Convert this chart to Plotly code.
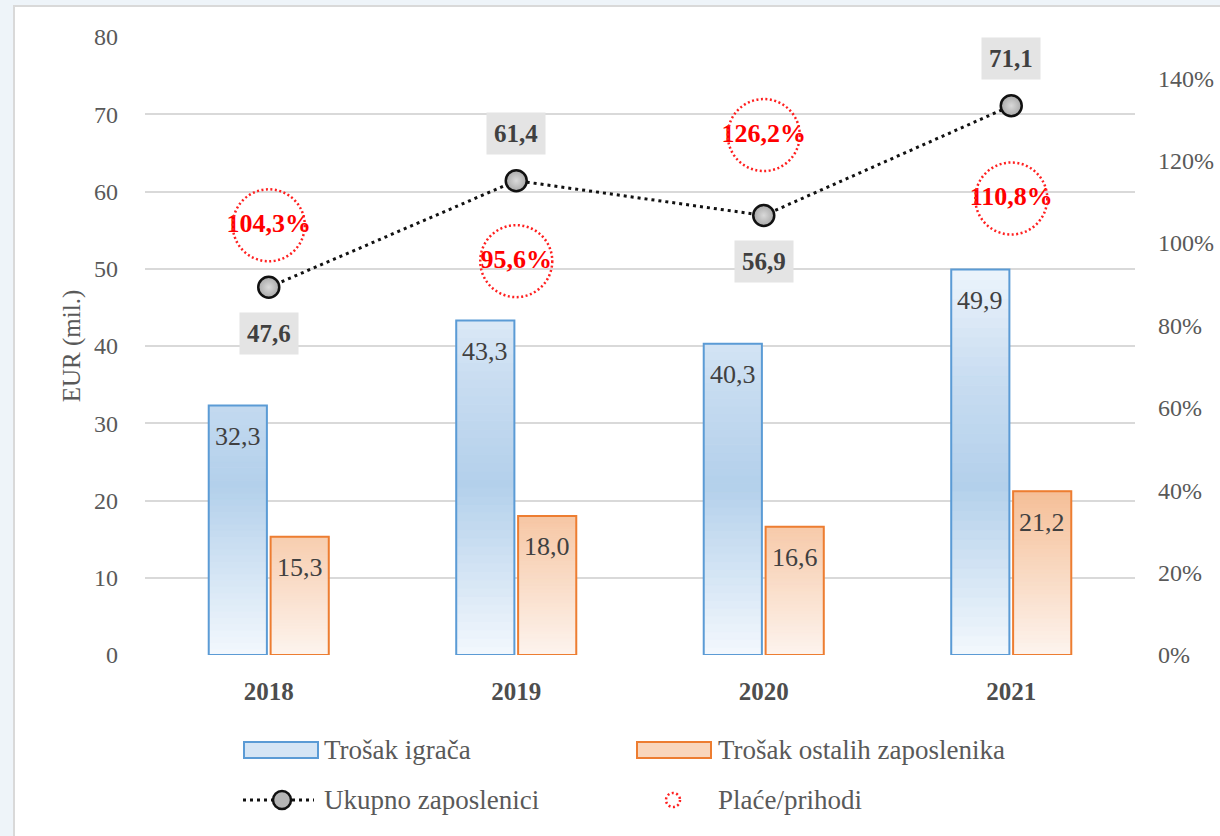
import plotly.graph_objects as go

# ---------------- data ----------------
years = ["2018", "2019", "2020", "2021"]
trosak_igraca = [32.3, 43.3, 40.3, 49.9]
trosak_ostalih = [15.3, 18.0, 16.6, 21.2]
ukupno_zaposlenici = [47.6, 61.4, 56.9, 71.1]
place_prihodi = [104.3, 95.6, 126.2, 110.8]
pct_ticks = [0, 20, 40, 60, 80, 100, 120, 140]

series_names = ["Trošak igrača", "Trošak ostalih zaposlenika",
                "Ukupno zaposlenici", "Plaće/prihodi"]

# style: where the total label sits relative to its marker
label_side = ["below", "above", "below", "above"]

# ---------------- geometry / style ----------------
FONT = "Liberation Serif"
W, H = 1220, 836
ML, MR, MT, MB = 145, 85, 37, 181
PW = W - ML - MR
PH = H - MT - MB
BAR_SHIFT = 31  # px offset of each bar from its category centre


def px(x):
    return (x - ML) / PW


def py(y):
    return (H - MB - y) / PH


def hex2rgb(h):
    h = h.lstrip("#")
    return tuple(int(h[i:i + 2], 16) for i in (0, 2, 4))


def grad(v, stops):
    if v <= stops[0][0]:
        return "rgb(%d,%d,%d)" % hex2rgb(stops[0][1])
    for (v0, c0), (v1, c1) in zip(stops[:-1], stops[1:]):
        if v0 <= v <= v1:
            t = (v - v0) / (v1 - v0)
            a, b = hex2rgb(c0), hex2rgb(c1)
            c = tuple(round(a[i] + (b[i] - a[i]) * t) for i in range(3))
            return "rgb(%d,%d,%d)" % c
    return "rgb(%d,%d,%d)" % hex2rgb(stops[-1][1])


blue_stops = [(0, "#f3f8fd"), (22, "#b3d0eb"), (36, "#c9ddf1"), (52, "#f1f7fd")]
orange_stops = [(0, "#fdf4ee"), (21, "#f5bf98"), (30, "#f5bf98")]

BLUE_LINE = "#5b9bd5"
ORANGE_LINE = "#ed7d31"
TXT = "#595959"
DARK = "#404040"

fig = go.Figure()

N = 40
for vals, stops, grp in [(trosak_igraca, blue_stops, "a"),
                         (trosak_ostalih, orange_stops, "b")]:
    for k in range(N):
        cols = [grad(v * (k + 0.5) / N, stops) for v in vals]
        fig.add_trace(go.Bar(
            x=years,
            y=[v / N for v in vals],
            base=[v * k / N for v in vals],
            offsetgroup=grp,
            marker=dict(color=cols, line=dict(width=1, color=cols)),
            hoverinfo="skip", showlegend=False,
        ))

for vals, col, grp, name in [(trosak_igraca, BLUE_LINE, "a", series_names[0]),
                             (trosak_ostalih, ORANGE_LINE, "b", series_names[1])]:
    fig.add_trace(go.Bar(
        x=years, y=vals, offsetgroup=grp, name=name,
        marker=dict(color="rgba(0,0,0,0)", line=dict(color=col, width=2)),
        showlegend=False,
    ))

fig.add_trace(go.Scatter(
    x=years, y=ukupno_zaposlenici, name=series_names[2],
    mode="lines+markers",
    line=dict(color="#111111", width=3, dash="3px,4px"),
    marker=dict(size=21, color="#a9a9a9",
                gradient=dict(type="radial", color="#d9d9d9"),
                line=dict(color="#111111", width=2.5)),
    showlegend=False, cliponaxis=False,
))

fig.add_trace(go.Scatter(
    x=years, y=place_prihodi, name=series_names[3], yaxis="y2",
    mode="text", texttemplate="%{y:.1f}%", textposition="middle center",
    textfont=dict(family=FONT, size=26, color="#ff0000", weight="bold"),
    showlegend=False, cliponaxis=False,
))

shapes = []
# white panel
shapes.append(dict(type="rect", xref="paper", yref="paper",
                   x0=px(14), x1=px(1250), y0=py(880), y1=py(6),
                   fillcolor="white", line=dict(color="#d9d9d9", width=2),
                   layer="below"))
# dotted circles around ratios (category index as anchor)
for i, r in enumerate(place_prihodi):
    shapes.append(dict(type="circle", xref="x", yref="y2",
                       xsizemode="pixel", ysizemode="pixel",
                       xanchor=i, yanchor=r,
                       x0=-36, x1=36, y0=-36, y1=36,
                       line=dict(color="#ff2020", width=2.5, dash="2px,2.5px")))

annotations = []
# totals labels
for i, (v, side) in enumerate(zip(ukupno_zaposlenici, label_side)):
    annotations.append(dict(
        x=i, y=v, xref="x", yref="y", showarrow=False,
        text="<b>" + f"{v:.1f}".replace(".", ",") + "</b>",
        font=dict(family=FONT, size=25, color=DARK),
        bgcolor="#e4e4e4", borderpad=7,
        yshift=-46 if side == "below" else 47,
    ))
# bar value labels (inside, near top)
for vals, sh in [(trosak_igraca, -BAR_SHIFT), (trosak_ostalih, BAR_SHIFT)]:
    for i, v in enumerate(vals):
        annotations.append(dict(
            x=i, y=v, xref="x", yref="y", showarrow=False,
            text=f"{v:.1f}".replace(".", ","),
            font=dict(family=FONT, size=26, color=DARK),
            xshift=sh, yshift=-31, yanchor="middle",
        ))

# ---------------- manual legend ----------------
shapes.append(dict(type="rect", xref="paper", yref="paper",
                   x0=px(244), x1=px(318), y0=py(758), y1=py(742),
                   fillcolor="#d5e5f5", line=dict(color=BLUE_LINE, width=2)))
shapes.append(dict(type="rect", xref="paper", yref="paper",
                   x0=px(637), x1=px(711), y0=py(758), y1=py(742),
                   fillcolor="#f9d6bc", line=dict(color=ORANGE_LINE, width=2)))
shapes.append(dict(type="line", xref="paper", yref="paper",
                   x0=px(243), x1=px(314), y0=py(800), y1=py(800),
                   line=dict(color="#111111", width=3, dash="3px,4px")))
shapes.append(dict(type="circle", xref="paper", yref="paper",
                   xsizemode="pixel", ysizemode="pixel",
                   xanchor=px(282), yanchor=py(800),
                   x0=-9, x1=9, y0=-9, y1=9,
                   fillcolor="#b5b5b5", line=dict(color="#111111", width=2.5)))
shapes.append(dict(type="circle", xref="paper", yref="paper",
                   xsizemode="pixel", ysizemode="pixel",
                   xanchor=px(673), yanchor=py(800),
                   x0=-7, x1=7, y0=-7, y1=7,
                   line=dict(color="#ff2020", width=2.5, dash="2px,2.5px")))
for name, lx, ly in [(series_names[0], 322, 750), (series_names[1], 716, 750),
                     (series_names[2], 322, 800), (series_names[3], 716, 800)]:
    annotations.append(dict(
        x=px(lx), y=py(ly), xref="paper", yref="paper", showarrow=False,
        xanchor="left", yanchor="middle", text=name,
        font=dict(family=FONT, size=27, color=TXT),
    ))

fig.update_layout(
    width=W, height=H,
    margin=dict(l=ML, r=MR, t=MT, b=MB, autoexpand=False),
    paper_bgcolor="#eef4f9", plot_bgcolor="rgba(0,0,0,0)",
    barmode="group", bargap=0.5, bargroupgap=0.06,
    separators=",.",
    showlegend=False,
    font=dict(family=FONT, color=TXT),
    xaxis=dict(type="category", range=[-0.5, 3.5], showgrid=False,
               zeroline=False, showline=False,
               ticks="", ticklabelstandoff=19,
               tickfont=dict(family=FONT, size=25, color="#4d4d4d", weight="bold")),
    yaxis=dict(range=[0, 80], dtick=10, showgrid=True, gridcolor="#d9d9d9",
               gridwidth=1.7, zeroline=False, showline=False, ticks="",
               ticklabelstandoff=26,
               tickfont=dict(family=FONT, size=24, color=TXT),
               title=dict(text="EUR (mil.)", standoff=6,
                          font=dict(family=FONT, size=25, color=TXT))),
    yaxis2=dict(overlaying="y", side="right", range=[0, 150],
                tickvals=pct_ticks, ticktext=[f"{t}%" for t in pct_ticks],
                showgrid=False, zeroline=False, showline=False, ticks="",
                ticklabelstandoff=22,
                tickfont=dict(family=FONT, size=24, color=TXT)),
    shapes=shapes,
    annotations=annotations,
)

fig.write_html(
    "out.html",
    config={"displayModeBar": False},
    post_script="document.body.style.margin='0';"
                "document.body.style.background='#eef4f9';",
)
